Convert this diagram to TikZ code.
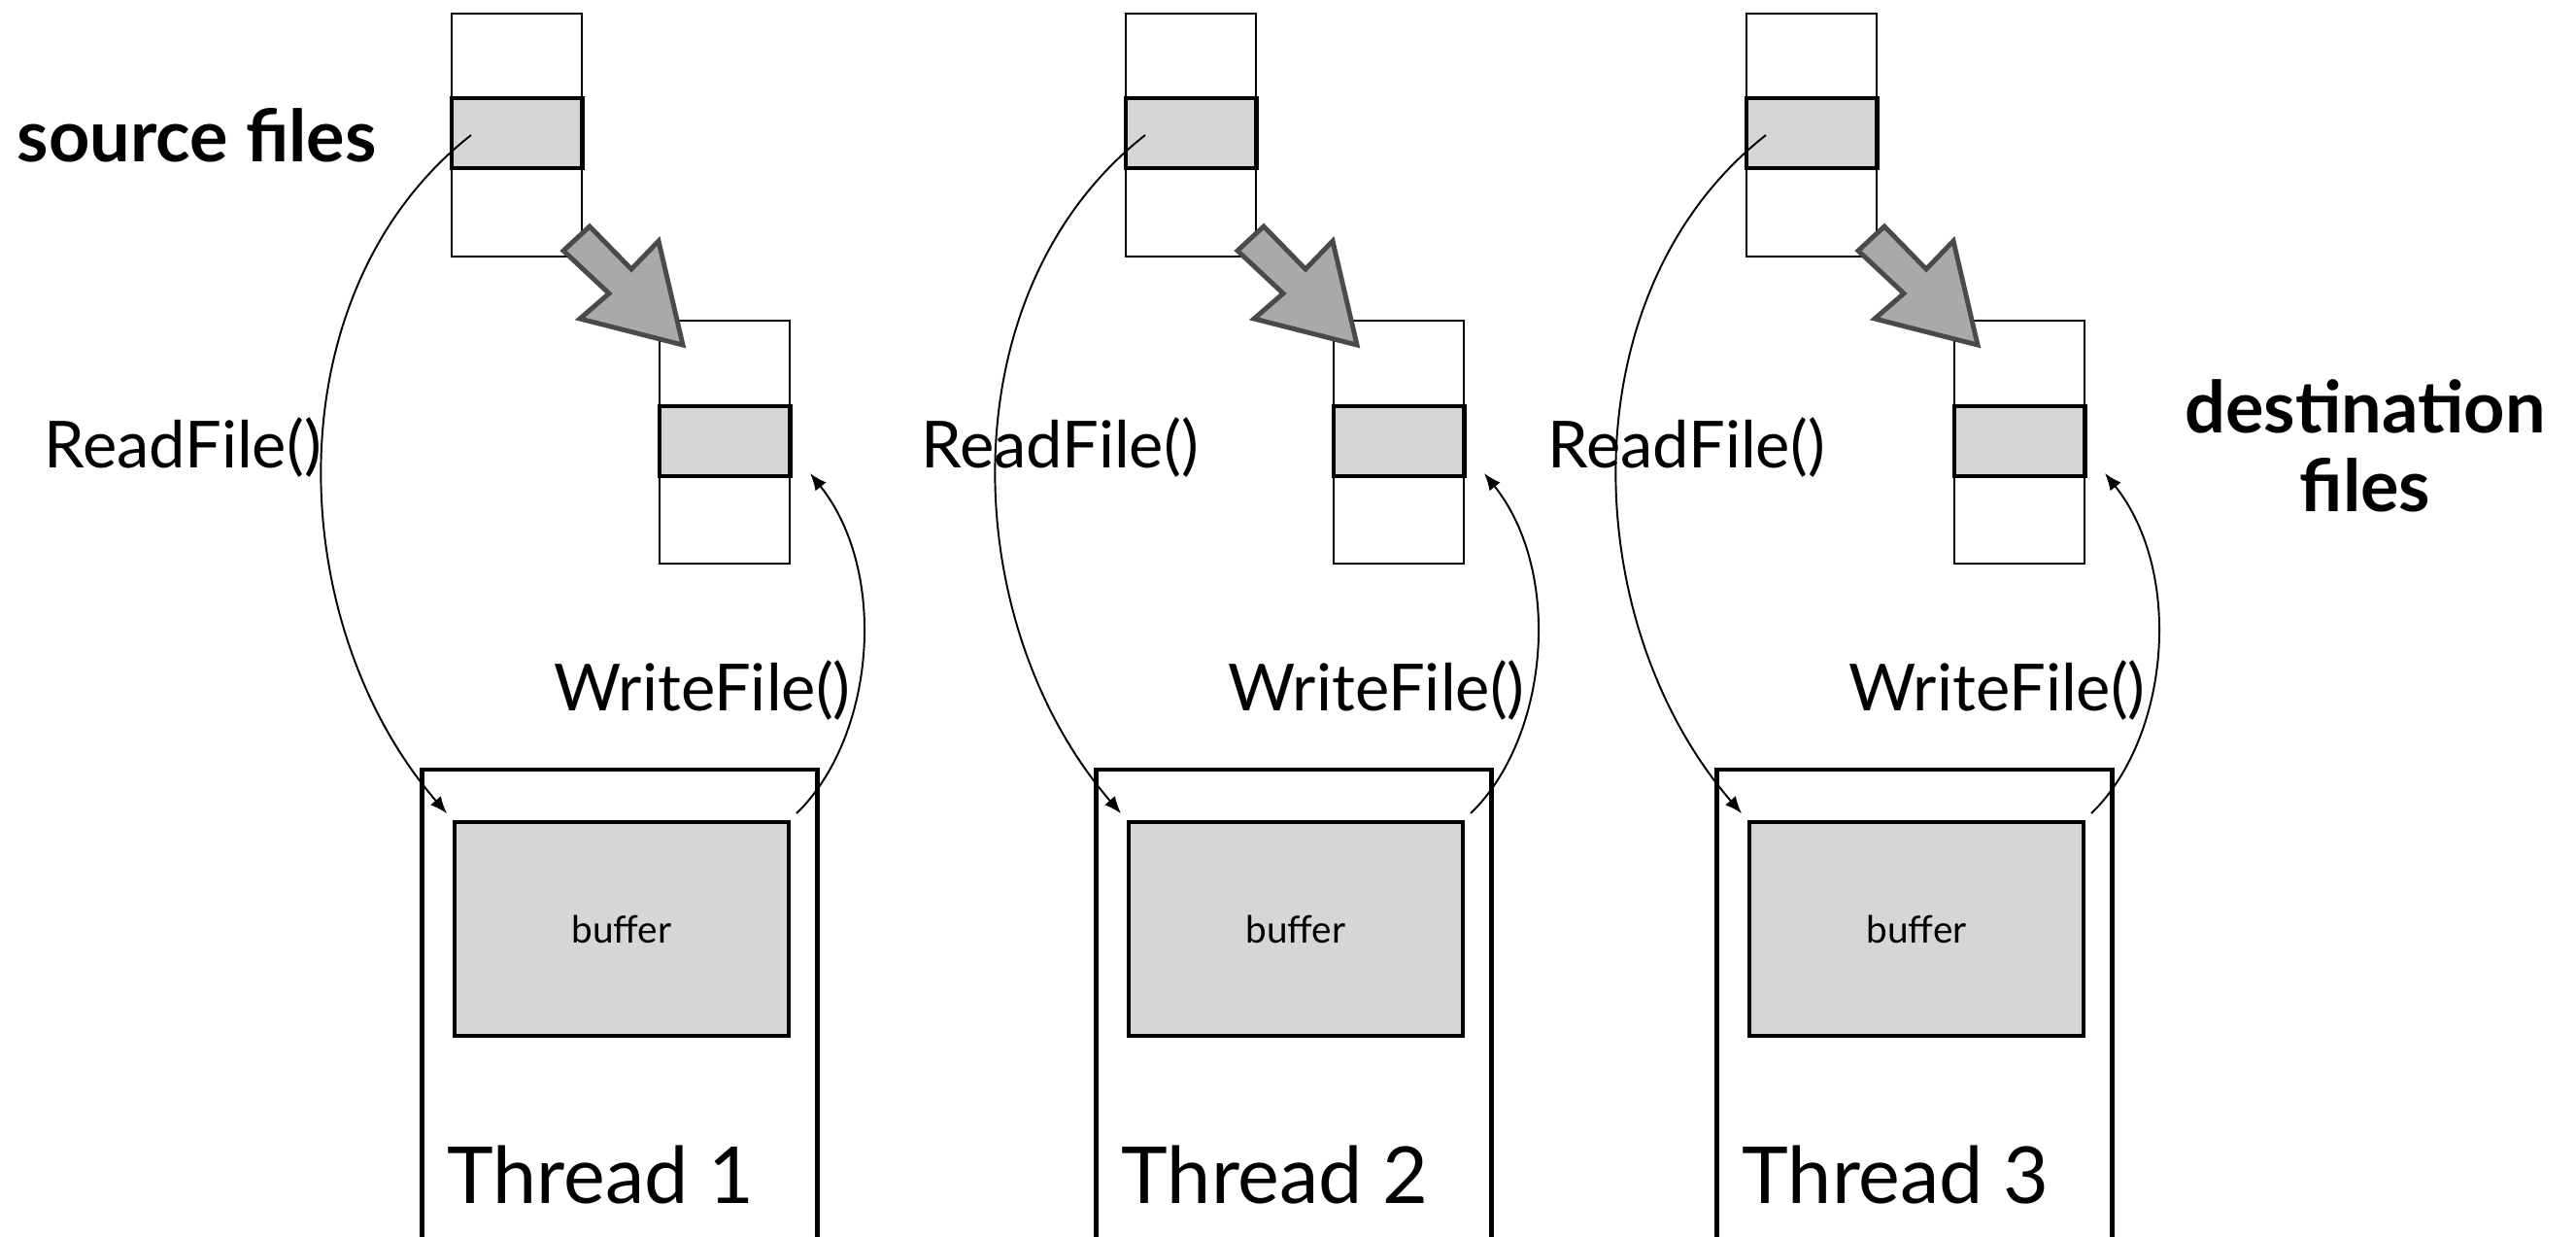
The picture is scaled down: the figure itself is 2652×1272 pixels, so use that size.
\documentclass[tikz,border=0pt]{standalone}
\usepackage{fontspec}
\setmainfont{Lato}
\usepackage{tikz}
\usepackage{xcolor}
\usetikzlibrary{arrows.meta, positioning}
\definecolor{bandgray}{HTML}{D6D6D6}
\definecolor{arrowgray}{HTML}{A9A9A9}
\definecolor{arrowedge}{HTML}{4A4A4A}

\begin{document}
\begin{tikzpicture}[x=0.01cm, y=-0.01cm,
    stack/.style={draw, line width=0.6pt, minimum width=1.34cm, minimum height=2.5cm, inner sep=0pt},
    band/.style={draw, fill=bandgray, line width=1.4pt, minimum width=1.34cm, minimum height=0.72cm, inner sep=0pt},
    thread/.style={draw, line width=1.3pt, minimum width=4.07cm, minimum height=5.08cm, inner sep=0pt},
    buf/.style={draw, fill=bandgray, line width=1.2pt, minimum width=3.44cm, minimum height=2.2cm, inner sep=0pt, font=\fontsize{11}{13}\selectfont},
    bigarrow/.style={draw=arrowedge, fill=arrowgray, line width=1.4pt},
    call/.style={-{Latex[length=5pt, width=4pt]}, line width=0.55pt},
    lbl/.style={inner sep=0pt, font=\fontsize{19}{22}\selectfont},
    tname/.style={inner sep=0pt, font=\fontsize{23}{27}\selectfont},
    tag/.style={inner sep=0pt, font=\bfseries\fontsize{21}{23}\selectfont, align=center}]
  \clip (0,0) rectangle (2652,1272);
  % Columns
  \foreach \i/\ox/\rx in {1/0/188, 2/694/397, 3/1333/403} {
    \begin{scope}[shift={(\ox,0)}]
      % files
      \node[stack] (src\i) at (532,139) {};
      \node[band] (srcband\i) at (532,137) {};
      \node[stack] (dst\i) at (746,455) {};
      \node[band] (dstband\i) at (746,454) {};
      \draw[bigarrow] (607,233) -- (650,277) -- (678,248) -- (703,355) -- (597,328) -- (627,302) -- (580,258) -- cycle;
      % thread
      \node[thread] (thread\i) at (638,1046) {};
      \node[buf] (buf\i) at (640,956) {buffer};
      \node[tname, anchor=base west] (tlabel\i) at (460,1238) {Thread \i};
      % calls
      \coordinate (rd\i) at (485,139);
      \coordinate (wr\i) at (820,837);
      \coordinate (wt\i) at (834,487);
      \draw[call, shorten >=2.5pt] (rd\i) .. controls (280,300) and (290,640) .. (buf\i.north west);
      \draw[call] (wr\i) .. controls (900,760) and (916,590) .. (wt\i);
      \node[lbl] (read\i) at (\rx,460) {ReadFile()};
      \node[lbl] (write\i) at (723,710) {WriteFile()};
    \end{scope}
  }
  \node[tag, anchor=west] (srclabel) at (17,139) {source files};
  \node[tag] (dstlabel) at (2435,459) {destination\\files};
\end{tikzpicture}
\end{document}
